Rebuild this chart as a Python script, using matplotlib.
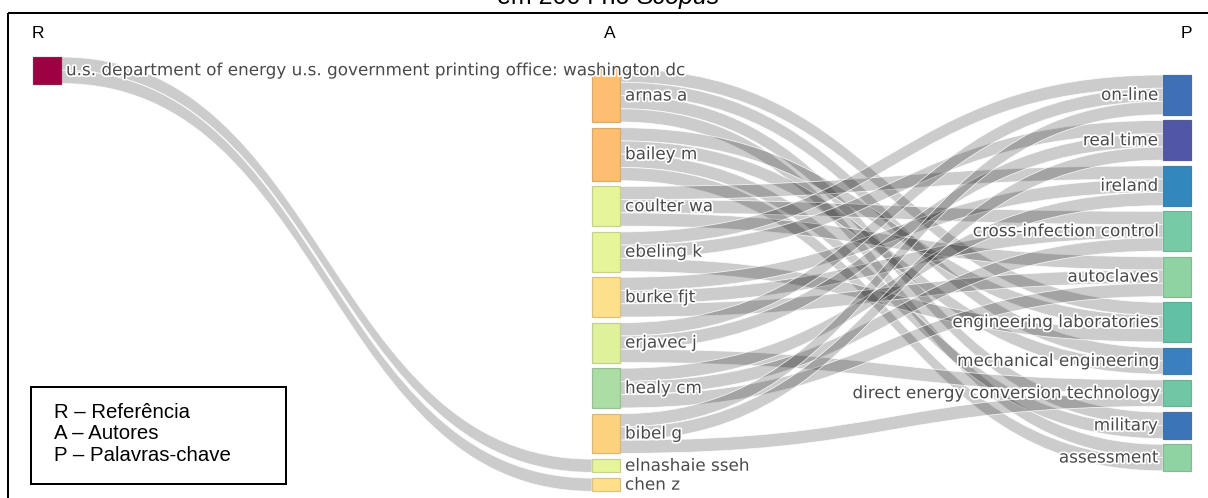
import matplotlib
matplotlib.use('Agg')
import matplotlib.pyplot as plt
import matplotlib.patheffects as pe
from matplotlib.patches import PathPatch, Rectangle
from matplotlib.path import Path

# colunas do diagrama: referência -> autores -> palavras-chave
references = ['u.s. department of energy u.s. government printing office: washington dc']
authors = ['arnas a', 'bailey m', 'coulter wa', 'ebeling k', 'burke fjt',
           'erjavec j', 'healy cm', 'bibel g', 'elnashaie sseh', 'chen z']
keywords = ['on-line', 'real time', 'ireland', 'cross-infection control', 'autoclaves',
            'engineering laboratories', 'mechanical engineering',
            'direct energy conversion technology', 'military', 'assessment']

# ligações (origem, destino, valor)
link_source = [references[0], references[0],
               'arnas a', 'arnas a', 'arnas a', 'arnas a',
               'bailey m', 'bailey m', 'bailey m', 'bailey m',
               'coulter wa', 'coulter wa', 'coulter wa',
               'ebeling k', 'ebeling k', 'ebeling k',
               'burke fjt', 'burke fjt', 'burke fjt',
               'erjavec j', 'erjavec j', 'erjavec j',
               'healy cm', 'healy cm', 'healy cm',
               'bibel g', 'bibel g', 'bibel g']
link_target = ['elnashaie sseh', 'chen z',
               'engineering laboratories', 'mechanical engineering', 'military', 'assessment',
               'engineering laboratories', 'mechanical engineering', 'military', 'assessment',
               'ireland', 'cross-infection control', 'autoclaves',
               'on-line', 'real time', 'engineering laboratories',
               'ireland', 'cross-infection control', 'autoclaves',
               'on-line', 'real time', 'direct energy conversion technology',
               'ireland', 'cross-infection control', 'autoclaves',
               'on-line', 'real time', 'direct energy conversion technology']
link_value = [1] * len(link_source)

# cores dos nós
node_colors = {
    references[0]: '#9e0142',
    'arnas a': '#fdbf6f', 'bailey m': '#fdbf6f', 'coulter wa': '#e6f59a',
    'ebeling k': '#e6f59a', 'burke fjt': '#fde08b', 'erjavec j': '#dff19a',
    'healy cm': '#abdda4', 'bibel g': '#fdd27f', 'elnashaie sseh': '#e6f59a',
    'chen z': '#fee08b',
    'on-line': '#3f6fb6', 'real time': '#5156a6', 'ireland': '#3288bd',
    'cross-infection control': '#76cba6', 'autoclaves': '#8fd3a2',
    'engineering laboratories': '#62c1a5', 'mechanical engineering': '#3a80c0',
    'direct energy conversion technology': '#70c7a6', 'military': '#3b75b8',
    'assessment': '#8fd3a2',
}

W, H = 1208, 498
PT = 0.72  # pontos por pixel (dpi 100)
KY = 13.25  # pixels por unidade
PAD = 5.7
NODE_W = 28
columns = [(references, 33, 57), (authors, 592, 69), (keywords, 1163, 75)]

# valor de cada nó = max(entrada, saída)
inflow, outflow = {}, {}
for s, t, v in zip(link_source, link_target, link_value):
    outflow[s] = outflow.get(s, 0) + v
    inflow[t] = inflow.get(t, 0) + v

nodes = {}
for names, x0, top in columns:
    y = top
    for n in names:
        h = max(inflow.get(n, 0), outflow.get(n, 0)) * KY
        nodes[n] = (x0, y, h)
        y += h + PAD


def center(n):
    return nodes[n][1] + nodes[n][2] / 2


# posição (topo) de cada ligação dentro dos nós
idx = range(len(link_source))
sy, ty = {}, {}
for n in nodes:
    off = 0
    for i in sorted([i for i in idx if link_source[i] == n], key=lambda i: center(link_target[i])):
        sy[i] = nodes[n][1] + off
        off += link_value[i] * KY
    off = 0
    for i in sorted([i for i in idx if link_target[i] == n], key=lambda i: center(link_source[i])):
        ty[i] = nodes[n][1] + off
        off += link_value[i] * KY

fig = plt.figure(figsize=(W / 100, H / 100), dpi=100)
ax = fig.add_axes([0, 0, 1, 1])
ax.set_xlim(0, W)
ax.set_ylim(H, 0)
ax.axis('off')

for i in idx:
    x0 = nodes[link_source[i]][0] + NODE_W
    x1 = nodes[link_target[i]][0]
    xm = (x0 + x1) / 2
    dy = link_value[i] * KY
    s0, s1, t0, t1 = sy[i], sy[i] + dy, ty[i], ty[i] + dy
    path = Path([(x0, s0), (xm, s0), (xm, t0), (x1, t0),
                 (x1, t1), (xm, t1), (xm, s1), (x0, s1), (x0, s0)],
                [Path.MOVETO, Path.CURVE4, Path.CURVE4, Path.CURVE4,
                 Path.LINETO, Path.CURVE4, Path.CURVE4, Path.CURVE4, Path.CLOSEPOLY])
    ax.add_patch(PathPatch(path, facecolor=(0, 0, 0, 0.2), edgecolor=(1, 1, 1, 0.8),
                           lw=0.6))

halo = [pe.withStroke(linewidth=2.5, foreground='white')]
for col, (names, x0, top) in enumerate(columns):
    for n in names:
        x, y, h = nodes[n]
        c = matplotlib.colors.to_rgb(node_colors[n])
        edge = tuple(0.75 * v + 0.1 for v in c)
        ax.add_patch(Rectangle((x, y), NODE_W, h, facecolor=c, edgecolor=edge, lw=1.2 * PT))
        if col < 2:
            ax.text(x + NODE_W + 5, y + h / 2, n, ha='left', va='center', fontsize=12.1,
                    color='#4a4a4a', path_effects=halo)
        else:
            ax.text(x - 5, y + h / 2, n, ha='right', va='center', fontsize=12.1,
                    color='#4a4a4a', path_effects=halo)

# moldura e textos do documento
ax.add_patch(Rectangle((7.5, 12.5), 1300, 600, fill=False, edgecolor='black', lw=2 * PT))
ax.text(636, 4, 'em 2004 no ', ha='right', va='baseline', fontsize=18,
        family='Liberation Sans')
ax.text(636, 4, 'Scopus', ha='left', va='baseline', fontsize=18,
        family='Liberation Sans', style='italic')
for lbl, x in zip(['R', 'A', 'P'], [38, 610, 1186]):
    ax.text(x, 33, lbl, ha='center', va='center', fontsize=12.5, family='Liberation Sans')

ax.add_patch(Rectangle((31, 387), 255, 97, fill=False, edgecolor='black', lw=2 * PT))
legend_lines = ['R \u2013 Referência', 'A \u2013 Autores', 'P \u2013 Palavras-chave']
for k, line in enumerate(legend_lines):
    ax.text(54, 412 + k * 21.5, line, ha='left', va='center', fontsize=14.7,
            family='Liberation Sans')

fig.savefig('out.png', dpi=100)
